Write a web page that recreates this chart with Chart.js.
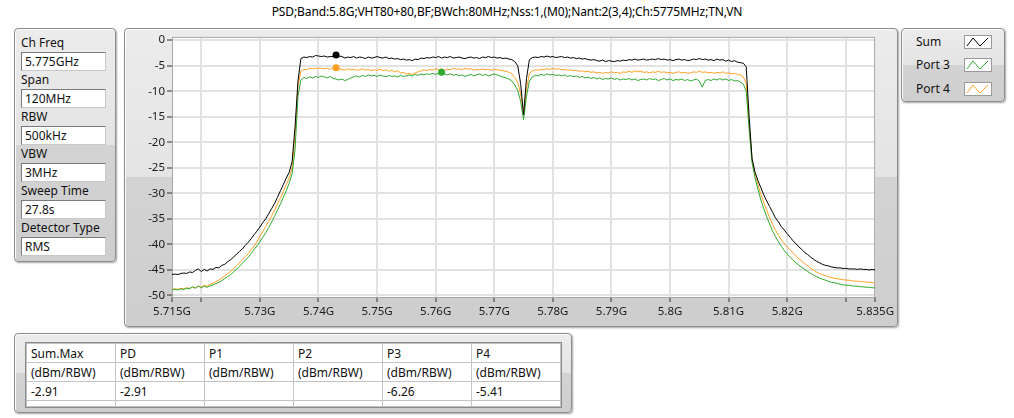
<!DOCTYPE html>
<html>
<head>
<meta charset="utf-8">
<script src="https://cdn.jsdelivr.net/npm/chart.js@4.4.1/dist/chart.umd.min.js"></script>
<style>
  body { margin: 0; width: 1014px; height: 418px; background: #fff; position: relative; overflow: hidden;
         font-family: "Noto Sans", sans-serif; font-size: 12px; color: #111; }
  .panel { position: absolute; box-sizing: border-box; border: 1px solid #8c8c8c; border-radius: 4px;
           background: linear-gradient(#ececec 0, #e4e4e4 50%, #d3d3d3 50%, #cecece 100%);
           box-shadow: 1px 1px 2px rgba(0,0,0,.35), inset 1px 1px 0 #fafafa; }
  #title { position: absolute; top: 3px; left: 0; width: 1014px; text-align: center; font-size: 12px; letter-spacing: -0.1px; color: #000; }
  #setup .lbl { position: absolute; left: 6px; font-size: 12px; line-height: 16px; }
  #setup .box { position: absolute; left: 6px; width: 85px; height: 19px; box-sizing: border-box; background: #fff;
                border: 1px solid #7a7a7a; border-right-color: #c8c8c8; border-bottom-color: #c8c8c8;
                padding-left: 3px; line-height: 17px; font-size: 12px; }
  #legend .row { position: absolute; left: 14px; font-size: 12px; line-height: 16px; }
  #legend svg { position: absolute; left: 62px; }
  #plotPanel canvas { position: absolute; left: 0; top: 0; }
  #results table { position: absolute; left: 11px; top: 9px; border-collapse: collapse; background: #fff;
                   outline: 1px solid #8a8a8a; }
  #results td { width: 84px; height: 18px; padding: 0 0 0 4px; border: 1px solid #c4c4c4; font-size: 12px; line-height: 17px; white-space: nowrap; }
  #results tr.pad td { height: 5px; }
</style>
</head>
<body>
<div id="title"></div>
<div id="setup" class="panel" style="left:14px;top:28px;width:102px;height:234px;"></div>
<div id="plotPanel" class="panel" style="left:124px;top:28px;width:774px;height:299px;"><canvas id="psd" width="772" height="297"></canvas></div>
<div id="legend" class="panel" style="left:901px;top:28px;width:104px;height:74px;"></div>
<div id="results" class="panel" style="left:14px;top:333px;width:558px;height:80px;"></div>
<script>
const titleText = 'PSD;Band:5.8G;VHT80+80,BF;BWch:80MHz;Nss:1,(M0);Nant:2(3,4);Ch:5775MHz;TN,VN';

const setupNames = ['Ch Freq', 'Span', 'RBW', 'VBW', 'Sweep Time', 'Detector Type'];
const setupValues = ['5.775GHz', '120MHz', '500kHz', '3MHz', '27.8s', 'RMS'];

// sweep: 5715 MHz to 5835 MHz, 0.5 MHz per point
const freqStartMHz = 5715;
const freqStepMHz = 0.5;

// dBm/RBW
const sumPower = [
  -45.9, -45.8, -45.9, -45.7, -45.6, -45.7, -45.4, -45.5, -45.1, -44.8,
  -45.3, -44.9, -45.2, -44.8, -44.9, -44.5, -44.6, -44.1, -43.9, -43.4,
  -43.0, -42.5, -41.9, -41.4, -40.9, -40.2, -39.6, -38.9, -38.1, -37.4,
  -36.6, -35.7, -35.0, -34.0, -33.0, -32.0, -30.8, -29.5, -28.3, -27.0,
  -25.9, -23.8, -17.0, -8.0, -3.6,
  -3.3, -3.4, -3.2, -3.3, -3.0, -3.1, -3.2, -3.1, -3.3, -3.2,
  -3.2, -2.91, -3.1, -3.2, -3.5, -3.3, -3.4, -3.2, -3.5, -3.3,
  -3.4, -3.6, -3.3, -3.5, -3.4, -3.2, -3.4, -3.5, -3.3, -3.6,
  -3.5, -3.7, -3.6, -3.8, -3.7, -3.9, -3.8, -4.0, -3.7, -3.8,
  -3.5, -3.6, -3.4, -3.5, -3.3, -3.4, -3.2, -3.5, -3.3, -3.4,
  -3.2, -3.5, -3.4, -3.3, -3.5, -3.6, -3.4, -3.3, -3.5, -3.4,
  -3.6, -3.3, -3.4, -3.2, -3.4, -3.3, -3.5, -3.4, -3.6, -3.5,
  -3.7, -3.8, -4.2, -5.0,
  -8.5, -14.6, -7.5,
  -3.8, -3.4, -3.3, -3.4, -3.2, -3.3, -3.1, -3.3, -3.2, -3.4,
  -3.3, -3.2, -3.4, -3.3, -3.5, -3.4, -3.6, -3.5, -3.7, -3.6,
  -3.8, -3.9, -3.8, -4.0, -4.1, -3.9, -4.2, -4.0, -4.1, -4.2,
  -4.0, -4.1, -3.9, -4.0, -3.8, -3.9, -3.7, -3.9, -3.8, -3.7,
  -3.9, -3.8, -3.7, -3.8, -3.6, -3.8, -3.7, -3.9, -3.8, -4.0,
  -3.8, -3.7, -3.9, -3.8, -4.0, -3.9, -3.7, -3.8, -3.6, -3.8,
  -3.7, -3.9, -3.8, -4.0, -3.7, -3.9, -3.8, -4.1, -3.9, -4.2,
  -4.0, -4.3, -4.4, -4.5, -5.2,
  -15.0, -23.2, -25.8, -27.5, -28.9, -30.3, -31.5, -32.6, -33.7, -34.8,
  -35.6, -36.5, -37.2, -37.9, -38.6, -39.3, -39.9, -40.5, -41.0, -41.6,
  -42.0, -42.5, -42.9, -43.3, -43.6, -43.9, -44.1, -44.2, -44.4, -44.5,
  -44.6, -44.6, -44.7, -44.7, -44.8, -44.8, -44.8, -44.9, -44.8, -44.9,
  -44.9, -45.0, -44.9, -45.0
];

const port3Power = [
  -48.9, -48.8, -48.9, -48.7, -48.8, -48.6, -48.7, -48.3, -48.6, -48.1,
  -48.5, -48.2, -48.4, -48.1, -47.9, -47.7, -47.4, -47.1, -46.7, -46.3,
  -45.9, -45.4, -44.9, -44.3, -43.7, -43.1, -42.5, -41.8, -41.0, -40.3,
  -39.5, -38.6, -37.7, -36.7, -35.6, -34.5, -33.3, -32.1, -30.8, -29.5,
  -28.0, -26.2, -21.5, -11.0, -7.8,
  -7.3, -7.5, -7.2, -7.4, -7.1, -7.3, -7.0, -7.2, -7.4, -7.1,
  -7.5, -7.6, -7.8, -7.6, -7.9, -7.7, -7.4, -7.2, -7.0, -7.2,
  -6.9, -7.1, -6.8, -7.0, -6.9, -7.1, -6.8, -7.0, -7.2, -6.9,
  -7.1, -7.0, -7.2, -6.9, -7.1, -7.0, -6.8, -7.0, -6.7, -6.9,
  -6.6, -6.8, -6.6, -6.7, -6.5, -6.7, -6.5, -6.26, -6.6, -6.8,
  -6.6, -6.9, -6.7, -7.0, -6.8, -7.1, -6.9, -6.7, -7.0, -6.8,
  -6.6, -6.9, -6.7, -7.0, -6.8, -6.6, -6.8, -7.0, -7.2, -7.4,
  -7.6, -8.0, -8.8, -9.8,
  -12.0, -15.6, -11.0,
  -8.0, -7.2, -6.9, -7.0, -6.7, -6.9, -6.6, -6.8, -6.7, -6.9,
  -6.8, -7.0, -6.8, -7.1, -6.9, -7.2, -7.0, -7.3, -7.1, -7.4,
  -7.2, -7.5, -7.3, -7.6, -7.4, -7.7, -7.5, -7.6, -7.4, -7.7,
  -7.5, -7.8, -7.6, -7.7, -7.5, -7.8, -7.6, -7.9, -7.7, -7.6,
  -7.8, -7.5, -7.7, -7.6, -7.9, -7.7, -7.5, -7.8, -7.6, -7.9,
  -7.7, -7.8, -7.6, -7.9, -7.7, -8.0, -7.8, -7.6, -8.0, -9.2,
  -7.9, -7.7, -7.9, -7.6, -7.8, -7.5, -7.8, -7.6, -7.9, -7.7,
  -8.0, -7.9, -8.2, -8.6, -10.0,
  -17.5, -24.0, -26.9, -29.2, -31.3, -33.0, -34.6, -36.0, -37.4, -38.5,
  -39.5, -40.4, -41.2, -41.9, -42.5, -43.1, -43.6, -44.1, -44.5, -44.9,
  -45.3, -45.7, -46.0, -46.3, -46.6, -46.8, -47.0, -47.2, -47.4, -47.5,
  -47.6, -47.8, -47.9, -48.0, -48.0, -48.1, -48.2, -48.2, -48.3, -48.3,
  -48.4, -48.4, -48.5, -48.5
];

const port4Power = [
  -48.8, -48.7, -48.8, -48.6, -48.7, -48.5, -48.6, -48.4, -48.5, -48.2,
  -48.4, -48.0, -48.2, -47.8, -47.6, -47.3, -47.0, -46.6, -46.2, -45.7,
  -45.3, -44.8, -44.2, -43.6, -43.0, -42.4, -41.8, -41.0, -40.3, -39.5,
  -38.4, -37.5, -36.5, -35.5, -34.4, -33.3, -32.1, -30.9, -29.6, -28.3,
  -27.0, -25.0, -18.5, -9.0, -6.0,
  -5.7, -5.8, -5.5, -5.6, -5.5, -5.5, -5.5, -5.6, -5.5, -5.7,
  -5.5, -5.41, -5.6, -5.7, -5.9, -5.6, -5.8, -5.7, -5.9, -5.8,
  -5.6, -5.9, -5.7, -6.0, -5.8, -5.9, -5.7, -6.0, -5.8, -6.1,
  -5.9, -6.2, -6.0, -6.4, -6.3, -6.6, -6.5, -6.7, -6.4, -6.2,
  -6.0, -5.8, -6.0, -5.7, -5.9, -5.6, -5.8, -5.6, -5.9, -5.7,
  -5.8, -5.5, -5.7, -5.6, -5.8, -5.5, -5.7, -5.6, -5.9, -5.7,
  -5.8, -5.6, -5.8, -5.7, -5.9, -5.7, -5.8, -5.9, -6.0, -6.1,
  -6.3, -6.6, -7.3, -8.2,
  -10.5, -14.3, -9.5,
  -6.5, -6.0, -5.8, -5.9, -5.7, -5.8, -5.6, -5.7, -5.5, -5.7,
  -5.6, -5.8, -5.7, -5.9, -5.8, -6.0, -5.9, -6.1, -6.0, -6.2,
  -6.1, -6.3, -6.2, -6.4, -6.3, -6.5, -6.3, -6.4, -6.2, -6.4,
  -6.3, -6.5, -6.2, -6.3, -6.1, -6.3, -6.0, -6.2, -6.1, -6.3,
  -6.2, -6.4, -6.2, -6.3, -6.1, -6.3, -6.2, -6.4, -6.3, -6.5,
  -6.3, -6.2, -6.4, -6.3, -6.5, -6.4, -6.2, -6.3, -6.1, -6.3,
  -6.2, -6.4, -6.3, -6.5, -6.3, -6.4, -6.2, -6.5, -6.4, -6.6,
  -6.5, -6.7, -6.8, -7.2, -8.5,
  -16.5, -23.5, -26.2, -28.3, -30.2, -31.8, -33.3, -34.8, -36.1, -37.2,
  -38.2, -39.1, -39.8, -40.5, -41.1, -41.7, -42.3, -42.8, -43.3, -43.8,
  -44.2, -44.7, -45.0, -45.4, -45.7, -45.9, -46.1, -46.3, -46.5, -46.6,
  -46.7, -46.8, -46.9, -47.0, -47.0, -47.1, -47.2, -47.2, -47.3, -47.3,
  -47.4, -47.4, -47.5, -47.5
];

const xTickValues = [5715, 5720, 5730, 5740, 5750, 5760, 5770, 5780, 5790, 5800, 5810, 5820, 5830, 5835];
const xTickLabels = ['5.715G', '', '5.73G', '5.74G', '5.75G', '5.76G', '5.77G', '5.78G', '5.79G', '5.8G', '5.81G', '5.82G', '', '5.835G'];
const yTickValues = [0, -5, -10, -15, -20, -25, -30, -35, -40, -45, -50];
const yTickLabels = ['0', '-5', '-10', '-15', '-20', '-25', '-30', '-35', '-40', '-45', '-50'];

const resultHeaders = ['Sum.Max', 'PD', 'P1', 'P2', 'P3', 'P4'];
const resultUnits = '(dBm/RBW)';

const traces = [
  { name: 'Sum', values: sumPower, color: '#000000' },
  { name: 'Port 3', values: port3Power, color: '#2fa82f' },
  { name: 'Port 4', values: port4Power, color: '#ffa024' }
];

function peakIndex(arr) {
  let k = 0;
  arr.forEach((v, i) => { if (v > arr[k]) k = i; });
  return k;
}

// ---- title / side panels ----
document.getElementById('title').textContent = titleText;

const setup = document.getElementById('setup');
setup.innerHTML = setupNames.map((name, i) => {
  const top = 23 + i * 37;
  return `<div class="lbl" style="top:${top - 17}px">${name}</div>` +
         `<div class="box" style="top:${top}px">${setupValues[i]}</div>`;
}).join('');

const legend = document.getElementById('legend');
legend.innerHTML = traces.map((t, i) => {
  const top = 5 + i * 23.3;
  return `<div class="row" style="top:${top}px">${t.name}</div>` +
         `<svg width="28" height="14" style="top:${top + 1}px">` +
         `<rect x="0.5" y="0.5" width="27" height="13" fill="#fff" stroke="#9a9a9a"/>` +
         `<polyline points="3,11 9,3 16,11 24,3" fill="none" stroke="${t.color}" stroke-width="1"/></svg>`;
}).join('');

// ---- readout table ----
const sumMax = Math.max(...sumPower).toFixed(2);
const resultValues = [sumMax, sumMax, '', '',
  Math.max(...port3Power).toFixed(2), Math.max(...port4Power).toFixed(2)];
document.getElementById('results').innerHTML =
  '<table>' +
  '<tr>' + resultHeaders.map(h => `<td>${h}</td>`).join('') + '</tr>' +
  '<tr>' + resultHeaders.map(() => `<td>${resultUnits}</td>`).join('') + '</tr>' +
  '<tr>' + resultValues.map(v => `<td>${v}</td>`).join('') + '</tr>' +
  '<tr class="pad">' + resultHeaders.map(() => '<td></td>').join('') + '</tr>' +
  '</table>';

// ---- spectrum plot ----
const plotFrame = {
  id: 'plotFrame',
  beforeDraw(chart) {
    const { ctx, chartArea: a } = chart;
    ctx.save();
    ctx.fillStyle = '#ffffff';
    ctx.fillRect(a.left, a.top, a.right - a.left, a.bottom - a.top);
    ctx.restore();
  },
  beforeDatasetsDraw(chart) {
    const { ctx, chartArea: a } = chart;
    ctx.save();
    ctx.strokeStyle = '#a6a6a6';
    ctx.lineWidth = 1;
    ctx.strokeRect(a.left + 0.5, a.top - 0.5, a.right - a.left - 1, a.bottom - a.top + 1);
    ctx.restore();
  }
};

const tickFont = { family: '"Noto Sans", sans-serif', size: 11.5 };

new Chart(document.getElementById('psd'), {
  type: 'line',
  data: {
    datasets: traces.map((t, order) => {
      const peak = peakIndex(t.values);
      return {
        label: t.name,
        data: t.values.map((v, i) => ({ x: freqStartMHz + i * freqStepMHz, y: v })),
        borderColor: t.color,
        backgroundColor: t.color,
        borderWidth: 1,
        tension: 0,
        order: order,
        pointRadius: c => (c.dataIndex === peak ? 3.5 : 0),
        pointBorderWidth: 0,
        pointBackgroundColor: t.color
      };
    })
  },
  options: {
    responsive: false,
    animation: false,
    layout: { padding: { top: 6, right: 20, left: 0, bottom: 0 } },
    plugins: { legend: { display: false }, tooltip: { enabled: false } },
    scales: {
      x: {
        type: 'linear',
        min: 5715,
        max: 5835,
        afterBuildTicks: s => { s.ticks = xTickValues.map(v => ({ value: v })); },
        afterFit: s => { s.height = 29; },
        ticks: {
          autoSkip: false, maxRotation: 0, padding: 3, color: '#1a1a1a', font: tickFont,
          callback: (v, i) => xTickLabels[i]
        },
        grid: {
          color: c => (c.tick && (c.tick.value === 5715 || c.tick.value === 5835) ? 'rgba(0,0,0,0)' : '#e2e2e2'),
          lineWidth: 2, tickColor: '#333', tickLength: 5, tickWidth: 1
        },
        border: { display: false }
      },
      y: {
        min: -50.3,
        max: 0.45,
        afterBuildTicks: s => { s.ticks = yTickValues.map(v => ({ value: v })); },
        afterFit: s => { s.width = 47; },
        ticks: {
          padding: 2, color: '#1a1a1a', font: tickFont,
          callback: (v, i) => yTickLabels[i]
        },
        grid: { color: '#e2e2e2', lineWidth: 2, tickColor: '#333', tickLength: 5, tickWidth: 1 },
        border: { display: false }
      }
    }
  },
  plugins: [plotFrame]
});
</script>
</body>
</html>
